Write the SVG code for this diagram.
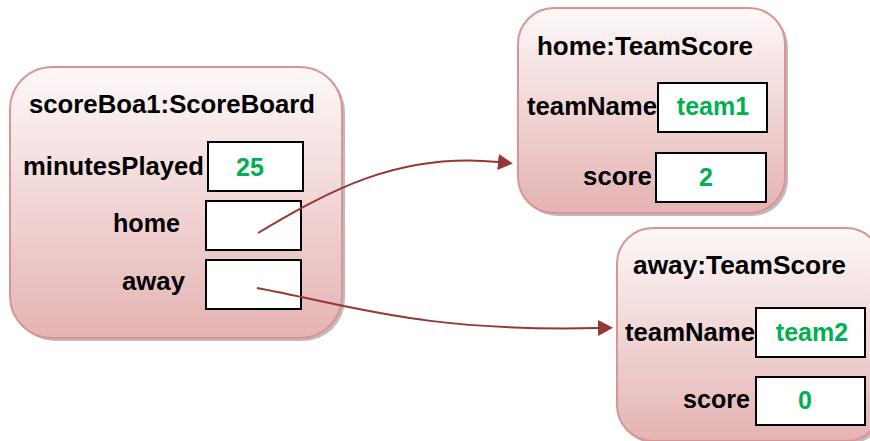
<svg xmlns="http://www.w3.org/2000/svg" width="870" height="441" viewBox="0 0 870 441">
<style>
.node{stroke:#d99494;stroke-width:2;fill:url(#g)}
.shadow{fill:#a99b9b;opacity:0.7}
.box{fill:#fff;stroke:#000;stroke-width:2}
.lbl{font-family:"Liberation Sans",Arial,sans-serif;font-weight:bold;font-size:25px;fill:#000}
.val{font-family:"Liberation Sans",Arial,sans-serif;font-weight:bold;font-size:25px;fill:#00b050;text-anchor:middle}
.conn{fill:none;stroke:#953735;stroke-width:2}
</style>
<defs>
<linearGradient id="g" x1="0" y1="0" x2="0" y2="1">
<stop offset="0" stop-color="#fdf8f8"/>
<stop offset="1" stop-color="#e5b3b3"/>
</linearGradient>
<marker id="arr" markerUnits="userSpaceOnUse" markerWidth="16" markerHeight="16" refX="0" refY="8" orient="auto">
<path d="M0,0 L15,8 L0,16 z" fill="#953735"/>
</marker>
</defs>
<rect width="870" height="441" fill="#fff"/>
<g id="scoreBoard">
<rect class="shadow" x="13" y="70" width="332" height="271" rx="42"/>
<rect class="node" x="10" y="67" width="332" height="271" rx="42"/>
<text class="lbl" x="29" y="113" textLength="286" lengthAdjust="spacingAndGlyphs">scoreBoa1:ScoreBoard</text>
<text class="lbl" x="23" y="175" textLength="181" lengthAdjust="spacingAndGlyphs">minutesPlayed</text>
<rect class="box" x="208" y="142" width="95" height="49"/>
<text class="val" x="250" y="176">25</text>
<text class="lbl" x="113" y="232" textLength="67" lengthAdjust="spacingAndGlyphs">home</text>
<rect class="box" x="206" y="201" width="95" height="49"/>
<text class="lbl" x="122" y="290" textLength="63" lengthAdjust="spacingAndGlyphs">away</text>
<rect class="box" x="206" y="260" width="95" height="49"/>
</g>
<g id="homeTeamScore">
<rect class="shadow" x="521" y="11" width="267" height="205" rx="36"/>
<rect class="node" x="518" y="8" width="267" height="205" rx="36"/>
<text class="lbl" x="537" y="55" textLength="216" lengthAdjust="spacingAndGlyphs">home:TeamScore</text>
<text class="lbl" x="527" y="115" textLength="130" lengthAdjust="spacingAndGlyphs">teamName</text>
<rect class="box" x="658" y="83" width="109" height="49"/>
<text class="val" x="713" y="115">team1</text>
<text class="lbl" x="583" y="185" textLength="69" lengthAdjust="spacingAndGlyphs">score</text>
<rect class="box" x="656" y="153" width="110" height="49"/>
<text class="val" x="706" y="186">2</text>
</g>
<g id="awayTeamScore">
<rect class="shadow" x="620" y="231" width="265" height="213" rx="36"/>
<rect class="node" x="617" y="228" width="265" height="213" rx="36"/>
<text class="lbl" x="633" y="274" textLength="213" lengthAdjust="spacingAndGlyphs">away:TeamScore</text>
<text class="lbl" x="625" y="341" textLength="130" lengthAdjust="spacingAndGlyphs">teamName</text>
<rect class="box" x="756" y="308" width="109" height="49"/>
<text class="val" x="812" y="341">team2</text>
<text class="lbl" x="683" y="408" textLength="67" lengthAdjust="spacingAndGlyphs">score</text>
<rect class="box" x="756" y="377" width="109" height="48"/>
<text class="val" x="805" y="409">0</text>
</g>
<g id="connectors">
<path class="conn" d="M258,233 C330,190 400,152 498,162" marker-end="url(#arr)"/>
<path class="conn" d="M257,288 C350,305 420,332 598,328" marker-end="url(#arr)"/>
</g>
</svg>
